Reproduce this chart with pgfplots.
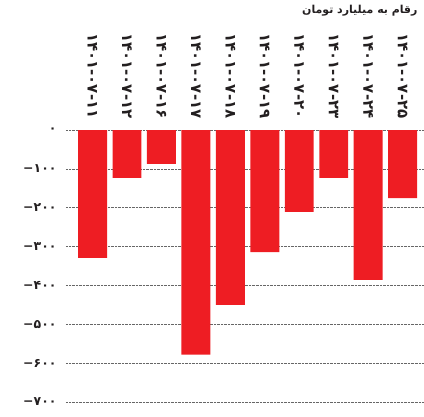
\documentclass[border=0pt]{standalone}
\usepackage{pgfplots}
\pgfplotsset{compat=1.18}
\usepackage{fontspec}
\setmainfont{DejaVu Sans}
\newfontfamily\arabicfont[Script=Arabic]{DejaVu Sans}
\newfontfamily\latinfont{DejaVu Sans}
\TeXXeTstate=1
\definecolor{barred}{HTML}{EE1D23}
\definecolor{txt}{HTML}{231F20}
\newcommand{\negnum}[1]{\mbox{\latinfont\bfseries −}\mbox{#1}}
\begin{document}
\begin{tikzpicture}[x=1bp,y=1bp]
\useasboundingbox (-66bp,-15bp) rectangle (358bp,402bp);
\begin{axis}[
  at={(0,0)}, anchor=south west,
  scale only axis, width=358bp, height=272bp,
  ymin=-700, ymax=0,
  xmin=-0.77, xmax=9.62,
  axis line style={draw=none},
  tick style={draw=none},
  ytick={-700,-600,-500,-400,-300,-200,-100,0},
  yticklabels={\negnum{۷۰۰},\negnum{۶۰۰},\negnum{۵۰۰},\negnum{۴۰۰},\negnum{۳۰۰},\negnum{۲۰۰},\negnum{۱۰۰},۰},
  yticklabel style={font=\arabicfont\fontsize{12.5}{12.5}\selectfont\bfseries, text=txt, anchor=east, xshift=-6bp},
  ymajorgrids,
  grid style={densely dotted, color=black!60, line width=0.6pt},
  xtick={0,1,2,3,4,5,6,7,8,9},
  xticklabels={۱۴۰۱-۰۷-۱۱,۱۴۰۱-۰۷-۱۲,۱۴۰۱-۰۷-۱۶,۱۴۰۱-۰۷-۱۷,۱۴۰۱-۰۷-۱۸,۱۴۰۱-۰۷-۱۹,۱۴۰۱-۰۷-۲۰,۱۴۰۱-۰۷-۲۳,۱۴۰۱-۰۷-۲۴,۱۴۰۱-۰۷-۲۵},
  xticklabel pos=upper,
  xticklabel style={font=\arabicfont\fontsize{15}{15}\selectfont\bfseries, text=txt, rotate=-90, anchor=east, xshift=-8bp},
]
\addplot[ybar, bar width=0.84, fill=barred, draw=none] coordinates {
(0,-329) (1,-123) (2,-87) (3,-578) (4,-450) (5,-314) (6,-211) (7,-123) (8,-386) (9,-175)
};
\end{axis}
\node[anchor=east, font=\arabicfont\fontsize{11}{11}\selectfont\bfseries, text=txt] at (355bp,391bp) {\beginR رقام به میلیارد تومان\endR};
\end{tikzpicture}
\end{document}
